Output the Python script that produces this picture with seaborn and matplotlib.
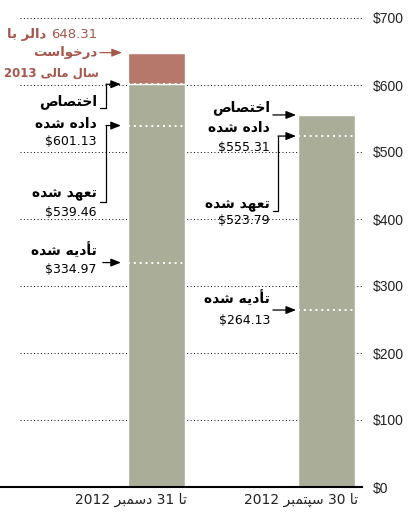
"""
بودجه: اختصاص داده شده، تعهد شده و تأدیه شده (میلیون دالر)
"""

import re
import matplotlib
matplotlib.use('Agg')
import matplotlib.pyplot as plt
import matplotlib.transforms as mtrans
import seaborn as sns
import pandas as pd

# ---- داده ها ----
periods = ['تا 31 دسمبر 2012', 'تا 30 سپتمبر 2012']
allotted = [601.13, 555.31]      # اختصاص داده شده
obligated = [539.46, 523.79]     # تعهد شده
disbursed = [334.97, 264.13]     # تأدیه شده
request_2013 = [648.31, 0]       # درخواست سال مالی 2013
y_ticks = [0, 100, 200, 300, 400, 500, 600, 700]

# ---- رنگ ها ----
GREEN = '#aaad98'
RED = '#b5786a'
RED_TXT = '#a5574a'
BAR_W = 0.335
FA_FONT = ['Liberation Sans Narrow', 'DejaVu Sans']   # ارقام باریک، حروف فارسی از DejaVu

sns.set_theme(style='white')
plt.rcParams['font.family'] = ['DejaVu Sans']

# ---- شکل دادن ساده متن فارسی (حروف متصل + راست به چپ) ----
FORMS = {
    'ا': ('\uFE8D', '\uFE8E', None, None),
    'أ': ('\uFE83', '\uFE84', None, None),
    'د': ('\uFEA9', '\uFEAA', None, None),
    'ر': ('\uFEAD', '\uFEAE', None, None),
    'و': ('\uFEED', '\uFEEE', None, None),
    'ب': ('\uFE8F', '\uFE90', '\uFE91', '\uFE92'),
    'پ': ('\uFB56', '\uFB57', '\uFB58', '\uFB59'),
    'ت': ('\uFE95', '\uFE96', '\uFE97', '\uFE98'),
    'خ': ('\uFEA5', '\uFEA6', '\uFEA7', '\uFEA8'),
    'س': ('\uFEB1', '\uFEB2', '\uFEB3', '\uFEB4'),
    'ش': ('\uFEB5', '\uFEB6', '\uFEB7', '\uFEB8'),
    'ص': ('\uFEB9', '\uFEBA', '\uFEBB', '\uFEBC'),
    'ع': ('\uFEC9', '\uFECA', '\uFECB', '\uFECC'),
    'ل': ('\uFEDD', '\uFEDE', '\uFEDF', '\uFEE0'),
    'م': ('\uFEE1', '\uFEE2', '\uFEE3', '\uFEE4'),
    'ه': ('\uFEE9', '\uFEEA', '\uFEEB', '\uFEEC'),
    'ی': ('\uFBFC', '\uFBFD', '\uFBFE', '\uFBFF'),
}


def shape(word):
    out = []
    for i, ch in enumerate(word):
        f = FORMS[ch]
        prev = word[i - 1] if i > 0 else None
        nxt = word[i + 1] if i < len(word) - 1 else None
        jp = prev is not None and FORMS[prev][2] is not None
        jn = nxt is not None and f[2] is not None
        if jp and jn:
            out.append(f[3])
        elif jp:
            out.append(f[1])
        elif jn:
            out.append(f[2])
        else:
            out.append(f[0])
    return ''.join(out)


def fa(text):
    runs = re.findall(r'[\u0600-\u06FF]+|[^\u0600-\u06FF\s]+|\s+', text)
    vis = [shape(r)[::-1] if '\u0600' <= r[0] <= '\u06FF' else r for r in runs]
    return ''.join(vis[::-1])


fig = plt.figure(figsize=(4.14, 5.15), dpi=100)
ax = fig.add_axes([0, 28 / 515, 362 / 414, 469 / 515])

# ---- ستون ها ----
df = pd.DataFrame({'period': periods, 'allotted': allotted, 'request': request_2013})
sns.barplot(data=df, x='period', y='request', order=periods, color=RED,
            width=BAR_W, saturation=1, errorbar=None, ax=ax, zorder=3)
sns.barplot(data=df, x='period', y='allotted', order=periods, color=GREEN,
            width=BAR_W, saturation=1, errorbar=None, ax=ax, zorder=3)

# خطوط نقطه چین سفید داخل ستون ها
white_lines = [[allotted[0], obligated[0], disbursed[0]], [obligated[1], disbursed[1]]]
for i, vals in enumerate(white_lines):
    ax.hlines(vals, i - BAR_W / 2, i + BAR_W / 2, colors='white',
              linestyles=(0, (1, 2)), linewidth=1.4, zorder=4)

# خطوط شبکه
for t in y_ticks[1:]:
    ax.axhline(t, xmin=0.055, xmax=1, color='black', linestyle=(0, (1, 2.5)),
               linewidth=0.7, zorder=1)

ax.set_xlim(-0.92, 1.209)
ax.set_ylim(0, 700)
ax.set_xlabel('')
ax.set_ylabel('')
for s in ['top', 'left', 'right']:
    ax.spines[s].set_visible(False)
ax.spines['bottom'].set_color('black')
ax.spines['bottom'].set_linewidth(1.5)
ax.spines['bottom'].set_zorder(5)

ax.yaxis.tick_right()
ax.set_yticks(y_ticks, labels=[f'${t}' for t in y_ticks])
ax.tick_params(axis='y', length=0, pad=8, labelsize=10, labelcolor='#222222')
for lab in ax.get_yticklabels():
    lab.set_fontfamily('Liberation Sans')

ax.set_xticks([0, 1], labels=[fa(p) for p in periods])
ax.tick_params(axis='x', length=0, pad=4, labelsize=10, labelcolor='#222222')
for lab, dx in zip(ax.get_xticklabels(), [22, 23]):
    lab.set_horizontalalignment('right')
    lab.set_transform(lab.get_transform() + mtrans.ScaledTranslation(dx / 72, 0, fig.dpi_scale_trans))

# ---- برچسب ها و پیکان ها ----
ARROW = dict(arrowstyle='-|>,head_length=0.5,head_width=0.2', color='black',
             lw=0.9, shrinkA=0, shrinkB=0)


def label(x, y, text, bold=True, color='black', size=10):
    if bold:
        return ax.text(x, y, fa(text), ha='right', va='center', fontsize=size,
                       fontweight='bold', color=color, family=FA_FONT)
    return ax.text(x, y, text, ha='right', va='center', fontsize=9,
                   color=color, family='DejaVu Sans')


def arrow(x0, x1, y, color='black'):
    props = dict(ARROW, color=color)
    ax.annotate('', xy=(x1, y), xytext=(x0, y), arrowprops=props)


# ستون اول
tx = -0.35
num = ax.text(tx, 676, '648.31', ha='right', va='center', fontsize=9.5, color=RED_TXT)
ax.annotate(fa('دالر با'), xy=(0, 0.5), xycoords=num, xytext=(-3, 0),
            textcoords='offset points', ha='right', va='center',
            fontsize=9.5, fontweight='bold', color=RED_TXT, family=FA_FONT)
label(tx, 648, 'درخواست', color=RED_TXT, size=9.5)
label(tx + 0.01, 618, 'سال مالی 2013', color=RED_TXT, size=8.5)
arrow(-0.332, -0.203, request_2013[0], color=RED_TXT)

label(tx, 575, 'اختصاص')
label(tx, 542, 'داده شده')
label(tx, 515, f'${allotted[0]:.2f}', bold=False)
ax.plot([-0.33, -0.297, -0.297], [566, 566, allotted[0]], color='black', lw=0.9)
arrow(-0.297, -0.209, allotted[0])

label(tx, 437, 'تعهد شده')
label(tx, 410, f'${obligated[0]:.2f}', bold=False)
ax.plot([-0.33, -0.297, -0.297], [425, 425, obligated[0]], color='black', lw=0.9)
arrow(-0.297, -0.209, obligated[0])

label(tx, 352, 'تأدیه شده')
label(tx, 325, f'${disbursed[0]:.2f}', bold=False)
arrow(-0.315, -0.209, disbursed[0])

# ستون دوم
tx = 0.668
label(tx, 566, 'اختصاص')
label(tx, 536, 'داده شده')
label(tx, 507, f'${allotted[1]:.2f}', bold=False)
arrow(0.685, 0.821, allotted[1])

label(tx, 421, 'تعهد شده')
label(tx, 398, f'${obligated[1]:.2f}', bold=False)
ax.plot([0.685, 0.715, 0.715], [412, 412, obligated[1]], color='black', lw=0.9)
arrow(0.715, 0.821, obligated[1])

label(tx, 281, 'تأدیه شده')
label(tx, 249, f'${disbursed[1]:.2f}', bold=False)
arrow(0.685, 0.821, disbursed[1])

fig.savefig('out.png', dpi=100, facecolor='white')
plt.close(fig)
